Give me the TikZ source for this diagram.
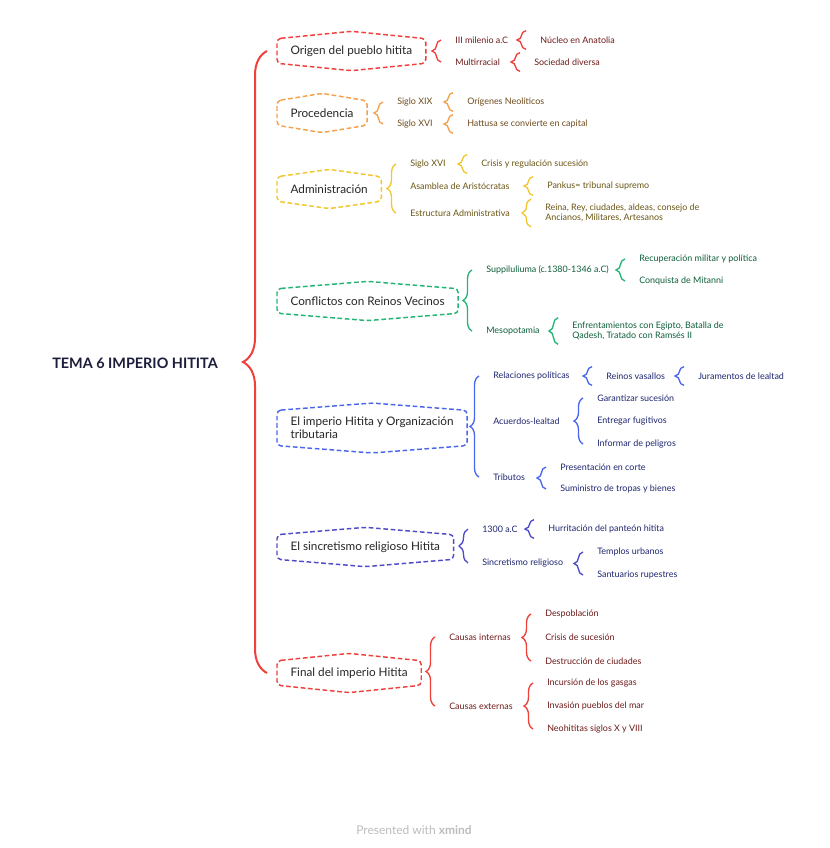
\documentclass[tikz,border=0pt]{standalone}
\usepackage{fontspec}
\setmainfont{Lato}
\usetikzlibrary{decorations.pathreplacing}

\definecolor{xred}{HTML}{F0403C}
\definecolor{xorange}{HTML}{F5A04A}
\definecolor{xyellow}{HTML}{F2C72E}
\definecolor{xgreen}{HTML}{22B573}
\definecolor{xblue}{HTML}{4A66EC}
\definecolor{xpurple}{HTML}{4E4CC9}
\definecolor{tred}{HTML}{6E1A1A}
\definecolor{tbrown}{HTML}{6E4A1C}
\definecolor{tolive}{HTML}{6A5614}
\definecolor{tgreen}{HTML}{0E5E3A}
\definecolor{tnavy}{HTML}{1E2670}
\definecolor{tdark}{HTML}{1B1D3A}
\definecolor{footgray}{HTML}{BDBDBD}

\begin{document}
\begin{tikzpicture}[
    x=0.75pt, y=-0.75pt,
    title/.style={anchor=west, inner sep=0pt, text=tdark, font=\fontsize{10.8}{12}\selectfont\bfseries},
    topic/.style={anchor=west, inner xsep=10pt, inner ysep=5pt, minimum height=18pt, align=left, text=black!85, font=\fontsize{8.8}{9.5}\selectfont},
    topicbox/.style={dashed, dash pattern=on 3.5pt off 2pt, line width=1.1pt, rounded corners=3pt},
    leaf/.style={anchor=west, inner sep=0pt, align=left, font=\fontsize{6.7}{7.5}\selectfont},
    brace/.style={decorate, decoration={brace, amplitude=6.75pt}, line width=1pt},
    mainbrace/.style={decorate, decoration={brace, amplitude=18pt}, line width=1.5pt}
  ]
  \useasboundingbox (0,0) rectangle (829,848);
  \fill[white] (0,0) rectangle (829,848);

  % root and main topics
  \node[title] (root) at (52,363) {TEMA 6 IMPERIO HITITA};
  \node[topic] (origen) at (277,51) {Origen del pueblo hitita};
  \node[topic] (proced) at (277,113) {Procedencia};
  \node[topic] (admin) at (277,189) {Administración};
  \node[topic] (confl) at (277,301) {Conflictos con Reinos Vecinos};
  \node[topic] (imper) at (277,428) {El imperio Hitita y Organización\\tributaria};
  \node[topic] (sincr) at (277,547) {El sincretismo religioso Hitita};
  \node[topic] (final) at (277,673) {Final del imperio Hitita};

  \foreach \n/\c in {origen/xred, proced/xorange, admin/xyellow, confl/xgreen,
                     imper/xblue, sincr/xpurple, final/xred}
    \draw[topicbox, \c] (\n.north west) -- ([yshift=5.5pt]\n.north) -- (\n.north east)
      -- (\n.south east) -- ([yshift=-5.5pt]\n.south) -- (\n.south west) -- cycle;

  \draw[mainbrace, xred] ([xshift=-7.5pt]final.west) -- ([xshift=-7.5pt]origen.west);

  % Origen del pueblo hitita
  \node[leaf, text=tred] (o1) at (455,40) {III milenio a.C};
  \node[leaf, text=tred] (o2) at (455,62) {Multirracial};
  \node[leaf, text=tred] (o11) at (540,40) {Núcleo en Anatolia};
  \node[leaf, text=tred] (o21) at (534,62) {Sociedad diversa};
  \draw[brace, xred] ([xshift=-10.5pt]o2.west) -- ([xshift=-10.5pt]o1.west);
  \draw[brace, xred] ([xshift=-10.5pt,yshift=-7pt]o11.west) -- ([xshift=-10.5pt,yshift=7pt]o11.west);
  \draw[brace, xred] ([xshift=-10.5pt,yshift=-7pt]o21.west) -- ([xshift=-10.5pt,yshift=7pt]o21.west);

  % Procedencia
  \node[leaf, text=tbrown] (p1) at (397,102) {Siglo XIX};
  \node[leaf, text=tbrown] (p2) at (397,124) {Siglo XVI};
  \node[leaf, text=tbrown] (p11) at (467,102) {Orígenes Neolíticos};
  \node[leaf, text=tbrown] (p21) at (467,124) {Hattusa se convierte en capital};
  \draw[brace, xorange] ([xshift=-10.5pt]p2.west) -- ([xshift=-10.5pt]p1.west);
  \draw[brace, xorange] ([xshift=-10.5pt,yshift=-7pt]p11.west) -- ([xshift=-10.5pt,yshift=7pt]p11.west);
  \draw[brace, xorange] ([xshift=-10.5pt,yshift=-7pt]p21.west) -- ([xshift=-10.5pt,yshift=7pt]p21.west);

  % Administracion
  \node[leaf, text=tolive] (a1) at (410,164) {Siglo XVI};
  \node[leaf, text=tolive] (a2) at (410,186) {Asamblea de Aristócratas};
  \node[leaf, text=tolive] (a3) at (410,213) {Estructura Administrativa};
  \node[leaf, text=tolive] (a11) at (481,164) {Crisis y regulación sucesión};
  \node[leaf, text=tolive] (a21) at (547,186) {Pankus= tribunal supremo};
  \node[leaf, text=tolive] (a31) at (545,213) {Reina, Rey, ciudades, aldeas, consejo de\\Ancianos, Militares, Artesanos};
  \draw[brace, xyellow] ([xshift=-10.5pt]a3.west) -- ([xshift=-10.5pt]a1.west);
  \draw[brace, xyellow] ([xshift=-10.5pt,yshift=-7pt]a11.west) -- ([xshift=-10.5pt,yshift=7pt]a11.west);
  \draw[brace, xyellow] ([xshift=-10.5pt,yshift=-7pt]a21.west) -- ([xshift=-10.5pt,yshift=7pt]a21.west);
  \draw[brace, xyellow] ([xshift=-10.5pt,yshift=-10.5pt]a31.west) -- ([xshift=-10.5pt,yshift=10.5pt]a31.west);

  % Conflictos con Reinos Vecinos
  \node[leaf, text=tgreen] (c1) at (486,270) {Suppiluliuma (c.1380-1346 a.C)};
  \node[leaf, text=tgreen] (c2) at (486,331) {Mesopotamia};
  \node[leaf, text=tgreen] (c11) at (639,259) {Recuperación militar y política};
  \node[leaf, text=tgreen] (c12) at (639,281) {Conquista de Mitanni};
  \node[leaf, text=tgreen] (c21) at (572,331) {Enfrentamientos con Egipto, Batalla de\\Qadesh, Tratado con Ramsés II};
  \draw[brace, xgreen] ([xshift=-10.5pt]c2.west) -- ([xshift=-10.5pt]c1.west);
  \draw[brace, xgreen] ([xshift=-10.5pt]c12.west) -- ([xshift=-10.5pt]c11.west);
  \draw[brace, xgreen] ([xshift=-10.5pt,yshift=-10pt]c21.west) -- ([xshift=-10.5pt,yshift=10pt]c21.west);

  % El imperio Hitita y Organizacion tributaria
  \node[leaf, text=tnavy] (i1) at (493,376) {Relaciones políticas};
  \node[leaf, text=tnavy] (i2) at (493,421) {Acuerdos-lealtad};
  \node[leaf, text=tnavy] (i3) at (493,477) {Tributos};
  \node[leaf, text=tnavy] (i11) at (606,376) {Reinos vasallos};
  \node[leaf, text=tnavy] (i111) at (698,376) {Juramentos de lealtad};
  \node[leaf, text=tnavy] (i21) at (597,398) {Garantizar sucesión};
  \node[leaf, text=tnavy] (i22) at (597,421) {Entregar fugitivos};
  \node[leaf, text=tnavy] (i23) at (597,444) {Informar de peligros};
  \node[leaf, text=tnavy] (i31) at (560,467) {Presentación en corte};
  \node[leaf, text=tnavy] (i32) at (560,489) {Suministro de tropas y bienes};
  \draw[brace, xblue] ([xshift=-10.5pt]i3.west) -- ([xshift=-10.5pt]i1.west);
  \draw[brace, xblue] ([xshift=-10.5pt,yshift=-7pt]i11.west) -- ([xshift=-10.5pt,yshift=7pt]i11.west);
  \draw[brace, xblue] ([xshift=-10.5pt,yshift=-7pt]i111.west) -- ([xshift=-10.5pt,yshift=7pt]i111.west);
  \draw[brace, xblue] ([xshift=-10.5pt]i23.west) -- ([xshift=-10.5pt]i21.west);
  \draw[brace, xblue] ([xshift=-10.5pt]i32.west) -- ([xshift=-10.5pt]i31.west);

  % El sincretismo religioso Hitita
  \node[leaf, text=tnavy] (s1) at (482,529) {1300 a.C};
  \node[leaf, text=tnavy] (s2) at (482,563) {Sincretismo religioso};
  \node[leaf, text=tnavy] (s11) at (548,529) {Hurritación del panteón hitita};
  \node[leaf, text=tnavy] (s21) at (597,552) {Templos urbanos};
  \node[leaf, text=tnavy] (s22) at (597,575) {Santuarios rupestres};
  \draw[brace, xpurple] ([xshift=-10.5pt]s2.west) -- ([xshift=-10.5pt]s1.west);
  \draw[brace, xpurple] ([xshift=-10.5pt,yshift=-7pt]s11.west) -- ([xshift=-10.5pt,yshift=7pt]s11.west);
  \draw[brace, xpurple] ([xshift=-10.5pt]s22.west) -- ([xshift=-10.5pt]s21.west);

  % Final del imperio Hitita
  \node[leaf, text=tred] (f1) at (449,637) {Causas internas};
  \node[leaf, text=tred] (f2) at (449,706) {Causas externas};
  \node[leaf, text=tred] (f11) at (545,614) {Despoblación};
  \node[leaf, text=tred] (f12) at (545,637) {Crisis de sucesión};
  \node[leaf, text=tred] (f13) at (545,661) {Destrucción de ciudades};
  \node[leaf, text=tred] (f21) at (547,683) {Incursión de los gasgas};
  \node[leaf, text=tred] (f22) at (547,706) {Invasión pueblos del mar};
  \node[leaf, text=tred] (f23) at (547,729) {Neohititas siglos X y VIII};
  \draw[brace, xred] ([xshift=-10.5pt]f2.west) -- ([xshift=-10.5pt]f1.west);
  \draw[brace, xred] ([xshift=-10.5pt]f13.west) -- ([xshift=-10.5pt]f11.west);
  \draw[brace, xred] ([xshift=-10.5pt]f23.west) -- ([xshift=-10.5pt]f21.west);

  \node[text=footgray, font=\fontsize{9}{10}\selectfont] (footer) at (414,830) {Presented with \textbf{xmind}};
\end{tikzpicture}
\end{document}
